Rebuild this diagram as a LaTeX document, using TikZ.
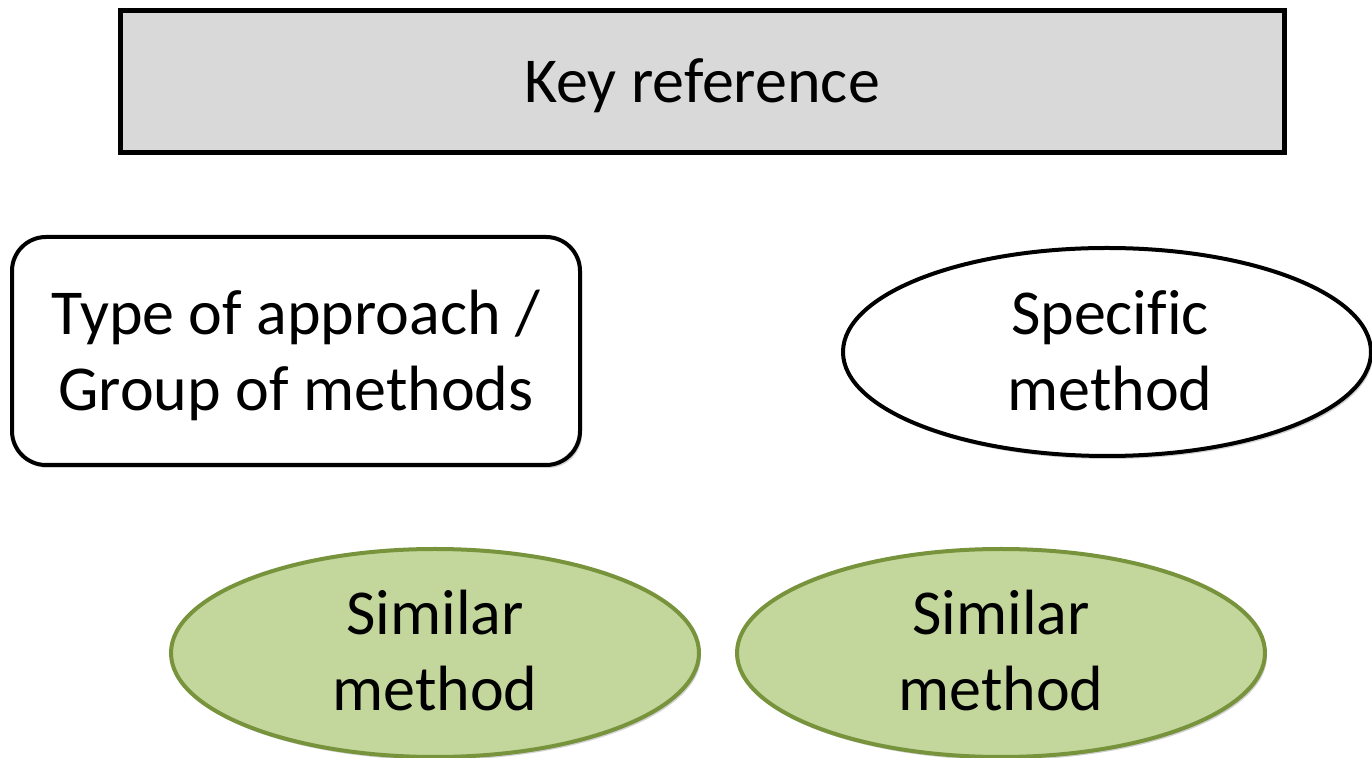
\documentclass[tikz,border=0pt]{standalone}
\usepackage{fontspec}
\setmainfont[Ligatures=CommonOff]{Carlito}
\usetikzlibrary{shapes.geometric,shadows}
\definecolor{boxgray}{HTML}{D9D9D9}
\definecolor{greenfill}{HTML}{C3D69B}
\definecolor{greenline}{HTML}{77933C}
\newcommand\twoln[2]{\vtop{\halign{\hfil##\hfil\cr #1\cr #2\cr}}}
\tikzset{
  lbl/.style={font=\fontsize{32pt}{37.75pt}\selectfont, text=black, inner sep=0pt, anchor=base},
  shad/.style={drop shadow={shadow xshift=1pt, shadow yshift=-1.5pt, fill=black, opacity=0.18}},
  keybox/.style={draw=black, line width=2.5pt, fill=boxgray, rectangle, inner sep=0pt,
    minimum width=582pt, minimum height=71pt, shad},
  groupbox/.style={draw=black, line width=2pt, fill=white, rectangle, rounded corners=17pt, inner sep=0pt,
    minimum width=284pt, minimum height=114pt, shad},
  methodell/.style={draw=black, line width=2pt, fill=white, ellipse, inner sep=0pt,
    minimum width=264pt, minimum height=104pt, shad},
  similarell/.style={draw=greenline, line width=2pt, fill=greenfill, ellipse, inner sep=0pt,
    minimum width=264pt, minimum height=104pt, shad}
}
\begin{document}
\begin{tikzpicture}[x=0.5pt, y=-0.5pt]
\useasboundingbox (0,0) rectangle (1372,758);
\node[keybox] (key) at (702,81.5) {};
\node[groupbox] (group) at (296,351) {};
\node[methodell] (spec) at (1107,352) {};
\node[similarell] (sim1) at (435,653) {};
\node[similarell] (sim2) at (1001,653) {};
\node[lbl] (keylbl) at ([yshift=-10.6pt]key.center) {Key reference};
\node[lbl] (grouplbl) at ([yshift=8pt]group.center) {\twoln{Type of approach /}{Group of methods}};
\node[lbl] (speclbl) at ([xshift=1.5pt,yshift=8.5pt]spec.center) {\twoln{Specific}{method}};
\node[lbl] (sim1lbl) at ([yshift=9pt]sim1.center) {\twoln{Similar}{method}};
\node[lbl] (sim2lbl) at ([yshift=9pt]sim2.center) {\twoln{Similar}{method}};
\end{tikzpicture}
\end{document}
